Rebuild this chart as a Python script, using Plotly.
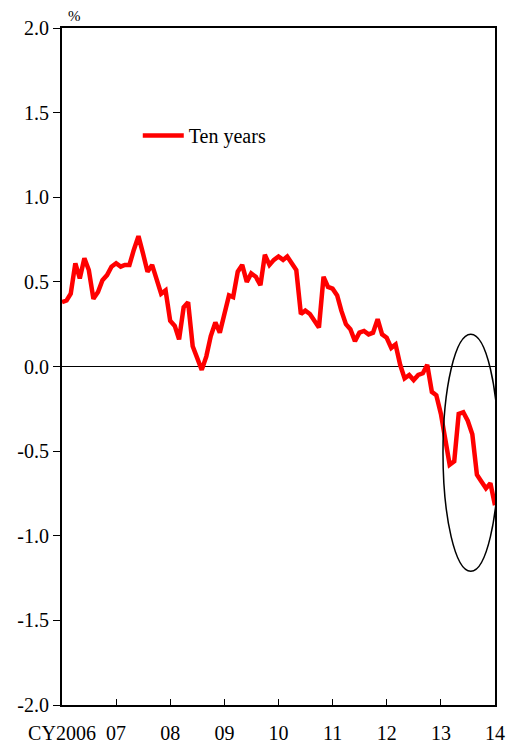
import pandas as pd
import plotly.graph_objects as go

# monthly ten-year yield, Jan 2006 - Jan 2014 (%)
months = pd.date_range("2006-01-01", periods=97, freq="MS")
ten_years = [
    0.38, 0.39, 0.43, 0.61, 0.52, 0.64, 0.57, 0.40, 0.44, 0.51, 0.54, 0.59,
    0.61, 0.59, 0.60, 0.60, 0.69, 0.77, 0.67, 0.56, 0.60, 0.52, 0.43, 0.45,
    0.27, 0.24, 0.16, 0.35, 0.38, 0.12, 0.05, -0.02, 0.06, 0.18, 0.26, 0.20,
    0.31, 0.42, 0.41, 0.56, 0.60, 0.50, 0.55, 0.53, 0.48, 0.66, 0.60, 0.63,
    0.65, 0.63, 0.65, 0.61, 0.57, 0.31, 0.33, 0.31, 0.27, 0.23, 0.53, 0.47,
    0.46, 0.42, 0.33, 0.25, 0.22, 0.15, 0.20, 0.21, 0.19, 0.20, 0.28, 0.19,
    0.17, 0.11, 0.13, 0.01, -0.07, -0.05, -0.08, -0.05, -0.04, 0.01, -0.15, -0.17,
    -0.28, -0.44, -0.58, -0.56, -0.28, -0.27, -0.32, -0.40, -0.64, -0.68, -0.72, -0.69,
    -0.82,
]

year_ticks = pd.date_range("2006-01-01", "2014-01-01", freq="YS")
year_labels = ["CY2006", "07", "08", "09", "10", "11", "12", "13", "14"]

y_ticks = [-2.0, -1.5, -1.0, -0.5, 0.0, 0.5, 1.0, 1.5, 2.0]
y_labels = ["-2.0", "-1.5", "-1.0", "-0.5", "0.0", "0.5", "1.0", "1.5", "2.0"]

font = "Liberation Serif, Times New Roman, serif"

fig = go.Figure()
fig.add_trace(go.Scatter(
    x=months, y=ten_years, mode="lines", name="Ten years",
    line=dict(color="#ff0000", width=4.5),
))

# ellipse highlighting the recent drop
fig.add_shape(
    type="circle", xref="x", yref="y",
    x0="2013-01-15", x1="2014-01-25", y0=-1.21, y1=0.19,
    line=dict(color="black", width=1.5),
)

fig.add_annotation(text="%", xref="paper", yref="paper", x=0.03, y=1.003,
                   xanchor="center", yanchor="bottom", showarrow=False,
                   font=dict(size=15, color="black", family=font))

fig.update_layout(
    width=508, height=749,
    margin=dict(l=62, r=13, t=28, b=44, autoexpand=False),
    paper_bgcolor="white", plot_bgcolor="white",
    font=dict(family=font, size=20, color="black"),
    showlegend=True,
    legend=dict(x=0.175, y=0.87, xanchor="left", yanchor="top", itemwidth=41,
                bgcolor="rgba(0,0,0,0)", font=dict(size=20, family=font)),
)
fig.update_xaxes(
    range=[months[0], months[-1]],
    tickvals=year_ticks, ticktext=year_labels,
    ticks="inside", ticklen=6, tickcolor="black", ticklabelstandoff=9,
    showline=True, linecolor="black", linewidth=2, mirror=True,
    showgrid=False, zeroline=False, automargin=False,
)
fig.update_yaxes(
    range=[-2, 2],
    tickvals=y_ticks, ticktext=y_labels,
    ticks="outside", ticklen=7, tickcolor="black",
    showline=True, linecolor="black", linewidth=2, mirror=True,
    showgrid=False, zeroline=True, zerolinecolor="black", zerolinewidth=1,
    automargin=False,
)

# drop the default page margin so the figure sits at the window's corner
fig.write_html("out.html", config={"displayModeBar": False},
               post_script="document.body.style.margin='0px';")
